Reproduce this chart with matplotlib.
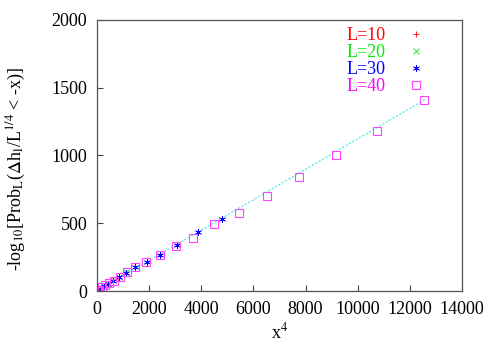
import numpy as np
import matplotlib
matplotlib.use("Agg")
from matplotlib import pyplot as plt

plt.rcParams['font.family'] = ['Liberation Serif', 'DejaVu Serif']
plt.rcParams['mathtext.fontset'] = 'stix'

# data: x^4 and -log10 Prob
l10_x = [1, 6, 20, 45, 90, 160, 256]
l10_y = [0.3, 1, 3, 7, 13, 22, 35]

l20_x = [1, 5, 18, 45, 95, 170, 280, 420, 600, 830, 1112]
l20_y = [0.3, 1, 3, 7, 14, 24, 38, 55, 78, 105, 140]

l30_x = [5, 18, 45, 95, 170, 280, 420, 600, 830, 1112, 1458, 1905, 2430, 3080, 3862, 4780]
l30_y = [1, 2, 6, 12, 22, 36, 52, 72, 100, 131, 175, 216, 262, 337, 433, 531]

l40_x = [1, 5, 15, 35, 70, 180, 307, 473, 652, 882, 1163, 1458, 1880, 2417, 3030,
         3694, 4500, 5447, 6533, 7760, 9167, 10727, 12530]
l40_y = [0, 1, 2, 4, 8, 27, 42, 57, 76, 101, 138, 175, 216, 262, 334,
         393, 492, 578, 703, 843, 1001, 1183, 1410]

fit_x = [0, 12600]
fit_y = [0, 1415]

fig = plt.figure(figsize=(4.91, 3.43), dpi=100)
ax = fig.add_axes([0.1976, 0.1516, 0.7434, 0.7901])

ax.plot(fit_x, fit_y, linestyle=(0, (2, 1.5)), color='#40e8f0', lw=0.8, zorder=1)

ax.plot(l10_x, l10_y, '+', color='red', ms=5, mew=0.6, linestyle='none', label='L=10')
ax.plot(l20_x, l20_y, 'x', color='#00ee00', ms=4.5, mew=0.6, linestyle='none', label='L=20')
ax.plot(l30_x, l30_y, marker=(6, 2, 0), color='blue', ms=5, mew=0.5, linestyle='none', label='L=30')
ax.plot(l40_x, l40_y, 's', mfc='none', mec='#ff44ff', ms=6, mew=0.8, linestyle='none', label='L=40')

ax.set_xlim(0, 14000)
ax.set_ylim(0, 2000)
ax.set_xticks(np.arange(0, 14001, 2000))
ax.set_yticks(np.arange(0, 2001, 500))
ax.tick_params(direction='in', length=4, width=0.8, labelsize=13, color='#444444', pad=7)
for s in ax.spines.values():
    s.set_color('#555555')
    s.set_linewidth(0.9)

ax.set_xlabel('x$^4$', fontsize=13)
ax.xaxis.set_label_coords(0.5, -0.115)
ax.set_ylabel(r'-log$_{10}$[Prob$_\mathrm{L}$($\Delta$h$_\mathrm{l}$/L$^{1/4}$ < -x)]', fontsize=13)
ax.yaxis.set_label_coords(-0.19, 0.45)

leg = ax.legend(loc='upper right', frameon=False, markerfirst=False, labelcolor='linecolor',
                fontsize=13, handlelength=1.5, handletextpad=0.9, labelspacing=0.0,
                borderaxespad=0.0, bbox_to_anchor=(0.93, 1.0))
leg.get_texts()[3].set_color('#ff00ff')

fig.savefig('out.png', dpi=100)
